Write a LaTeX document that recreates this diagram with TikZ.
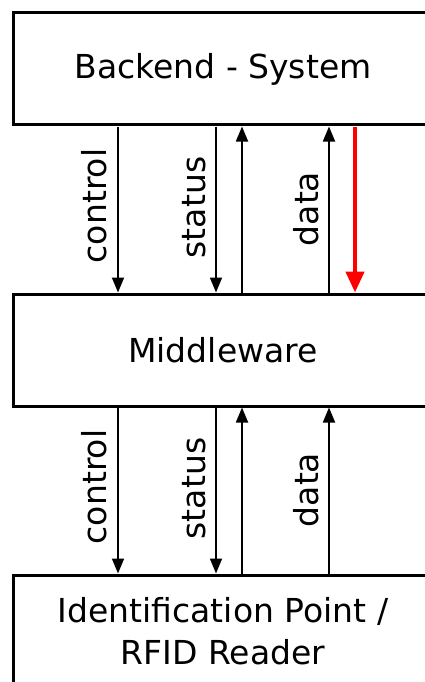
\documentclass[tikz,border=0pt]{standalone}
\usepackage{fontspec}
\setmainfont{DejaVu Sans}
\usetikzlibrary{arrows.meta}
\begin{document}
\begin{tikzpicture}[x=1pt,y=-1pt,
  layer/.style={draw,line width=3pt,rectangle,minimum width=420pt,minimum height=112pt,
    inner sep=0pt,align=center,font=\fontsize{33}{42}\selectfont},
  flowlabel/.style={rotate=90,inner sep=0pt,font=\fontsize{33}{40}\selectfont},
  flow/.style={line width=1.8pt,-{Triangle[length=15pt,width=12pt]}},
  hotflow/.style={draw=red,line width=4.5pt,-{Triangle[length=21pt,width=18pt]},color=red}]
\useasboundingbox (0,0) rectangle (425,682);
\clip (0,0) rectangle (425,682);

% the three layers
\node[layer] (backend) at (223,69) {Backend - System};
\node[layer] (middle) at (223,350) {Middleware};
\node[layer] (reader) at (223,631) {Identification Point /\\RFID Reader};

% columns of the connectors
\coordinate (xc) at (118,0);
\coordinate (xs) at (216,0);
\coordinate (xu) at (242,0);
\coordinate (xd) at (329,0);
\coordinate (xr) at (355,0);

% backend <-> middleware
\draw[flow] (backend.south -| xc) -- (middle.north -| xc);
\draw[flow] (backend.south -| xs) -- (middle.north -| xs);
\draw[flow] (middle.north -| xu) -- (backend.south -| xu);
\draw[flow] (middle.north -| xd) -- (backend.south -| xd);
\draw[hotflow] (backend.south -| xr) -- (middle.north -| xr);
\node[flowlabel] (c1) at (94.5,206) {control};
\node[flowlabel] (s1) at (194.5,207.5) {status};
\node[flowlabel] (d1) at (306,209) {data};

% middleware <-> reader
\draw[flow] (middle.south -| xc) -- (reader.north -| xc);
\draw[flow] (middle.south -| xs) -- (reader.north -| xs);
\draw[flow] (reader.north -| xu) -- (middle.south -| xu);
\draw[flow] (reader.north -| xd) -- (middle.south -| xd);
\node[flowlabel] (c2) at (94.5,487) {control};
\node[flowlabel] (s2) at (194.5,488.5) {status};
\node[flowlabel] (d2) at (306,490) {data};
\end{tikzpicture}
\end{document}
